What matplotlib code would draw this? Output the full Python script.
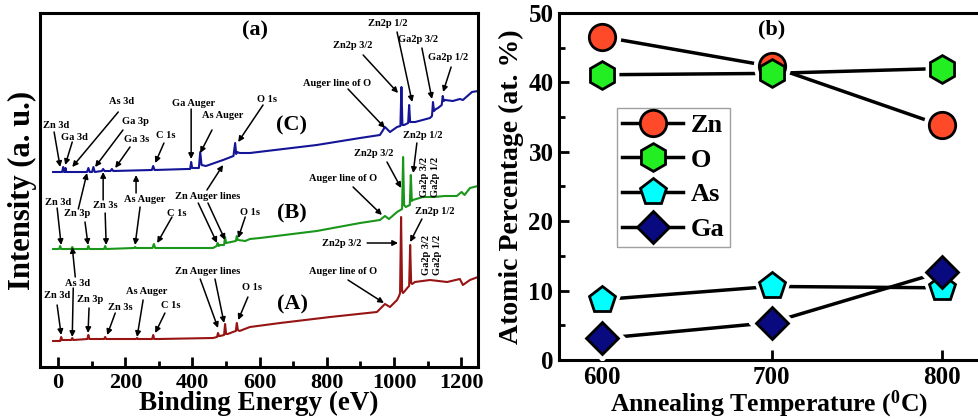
import matplotlib
matplotlib.use("Agg")
import matplotlib.pyplot as plt
from matplotlib.ticker import MultipleLocator

plt.rcParams['font.family'] = ['Liberation Serif', 'DejaVu Serif']
plt.rcParams['font.weight'] = 'bold'
plt.rcParams['axes.labelweight'] = 'bold'
plt.rcParams['mathtext.fontset'] = 'custom'
plt.rcParams['mathtext.rm'] = 'Liberation Serif:bold'
plt.rcParams['mathtext.default'] = 'rm'

# survey spectra: binding energy (eV) and intensity (arb. units)
energy_c = [-15, 12, 15, 18, 20, 22, 24, 86, 90, 94, 101, 105, 109, 130, 134, 138,
            156, 160, 164, 279, 283, 287, 384, 393, 396, 399, 419, 423, 427, 440, 491,
            522, 527, 530, 533, 540, 571, 770, 899, 958, 973, 988, 1009, 1019, 1022,
            1025, 1030, 1042, 1045, 1048, 1052, 1063, 1107, 1113, 1116, 1119, 1125,
            1131, 1142, 1145, 1148, 1152, 1175, 1196, 1205, 1232, 1250]
intensity_c = [195, 195, 200, 195, 195, 199, 195, 195, 199, 195, 195, 200, 195, 196, 198, 196,
               196, 198, 196, 197, 201, 197, 198, 198, 205, 199, 199, 215, 202, 201, 207,
               211, 224, 213, 215, 214, 214, 222, 229, 232, 240, 235, 240, 241, 280,
               242, 242, 244, 262, 245, 245, 245, 249, 251, 265, 256, 258,
               259, 262, 271, 266, 267, 266, 268, 267, 275, 276]

energy_b = [-15, 3, 6, 9, 39, 42, 45, 87, 90, 93, 137, 140, 143, 226, 229, 232, 281, 285,
            289, 300, 461, 472, 475, 478, 482, 494, 497, 500, 529, 532, 535, 557, 571,
            601, 770, 899, 958, 973, 985, 1009, 1024, 1027, 1030, 1035, 1047, 1050, 1053,
            1056, 1086, 1120, 1150, 1187, 1201, 1210, 1226, 1250]
intensity_b = [118, 118, 121, 118, 118, 120, 118, 118, 121, 118, 118, 121, 118, 119, 120, 119, 119, 123,
               119, 119, 119, 121, 124, 121, 122, 122, 130, 124, 126, 131, 127, 126, 128,
               129, 136, 144, 147, 151, 148, 155, 158, 210, 162, 160, 162, 192, 166,
               167, 170, 170, 171, 171, 175, 172, 179, 181]

energy_a = [-15, 6, 9, 12, 39, 42, 45, 87, 90, 93, 137, 140, 143, 232, 235, 238, 280, 283,
            286, 300, 461, 473, 476, 479, 482, 494, 497, 500, 505, 520, 529, 532, 535,
            540, 571, 661, 810, 949, 973, 988, 1009, 1015, 1018, 1021, 1024, 1027, 1042,
            1045, 1048, 1051, 1054, 1062, 1107, 1158, 1196, 1205, 1226, 1250]
intensity_a = [26, 26, 30, 27, 27, 29, 27, 28, 32, 28, 28, 30, 28, 28, 29, 28, 28, 32,
               28, 28, 29, 30, 34, 31, 31, 32, 43, 33, 33, 35, 36, 44, 37,
               36, 40, 44, 50, 55, 63, 60, 67, 71, 74, 150, 76, 74, 80,
               81, 122, 84, 83, 85, 87, 85, 88, 82, 87, 90]

# atomic percentages vs annealing temperature
temperature = [600, 700, 800]
zn_pct = [46.6, 42.3, 33.8]
o_pct = [41.1, 41.3, 42.0]
as_pct = [8.7, 10.6, 10.4]
ga_pct = [3.1, 5.4, 12.7]

# peak labels: (text, energy, intensity)
peak_labels = [
    ("Zn 3d", -6, 242), ("Ga 3d", 48, 230), ("As 3d", 190, 265), ("Ga 3p", 229, 245),
    ("Ga 3s", 235, 228), ("C 1s", 321, 231), ("Ga Auger", 402, 264), ("As Auger", 491, 251),
    ("O 1s", 622, 267), ("Auger line of O", 830, 284), ("Zn2p 3/2", 878, 322),
    ("Zn2p 1/2", 982, 343), ("Ga2p 3/2", 1071, 328), ("Ga2p 1/2", 1161, 310),
    ("Zn 3d", 0, 165), ("Zn 3p", 57, 154), ("Zn 3s", 140, 162), ("As Auger", 259, 168),
    ("C 1s", 354, 154), ("Zn Auger lines", 446, 171), ("O 1s", 571, 155),
    ("Auger line of O", 848, 189), ("Zn2p 3/2", 938, 214), ("Zn2p 1/2", 1086, 232),
    ("As 3d", 57, 84),
    ("Zn 3d", -3, 71), ("Zn 3p", 95, 68), ("Zn 3s", 185, 60), ("As Auger", 265, 75),
    ("C 1s", 336, 62), ("Zn Auger lines", 446, 95), ("O 1s", 577, 79),
    ("Auger line of O", 848, 95), ("Zn2p 3/2", 845, 124), ("Zn2p 1/2", 1122, 156),
]
rotated_labels = [("Ga2p 3/2", 1092, 190), ("Ga2p 1/2", 1122, 190),
                  ("Ga2p 3/2", 1098, 112), ("Ga2p 1/2", 1128, 112)]
# arrows: (start energy, start intensity, end energy, end intensity)
peak_arrows = [
    (-12, 235, 6, 200), (42, 225, 21, 202), (179, 255, 42, 200), (193, 237, 110, 200),
    (214, 220, 170, 199), (315, 224, 289, 204), (396, 258, 396, 208), (458, 237, 423, 214),
    (610, 262, 536, 225), (863, 278, 973, 239), (908, 312, 1012, 274),
    (1009, 335, 1054, 265), (1083, 319, 1113, 268), (1170, 300, 1146, 275),
    (-3, 159, 9, 122), (60, 158, 86, 194), (80, 145, 89, 122), (134, 167, 134, 195),
    (140, 154, 143, 122), (232, 174, 232, 192), (244, 160, 229, 122), (339, 150, 295, 124),
    (443, 177, 491, 202), (417, 164, 473, 124), (446, 164, 497, 127), (557, 150, 536, 129),
    (878, 180, 964, 152), (979, 205, 1021, 179), (1068, 224, 1057, 194),
    (51, 90, 42, 120), (45, 79, 42, 30),
    (-3, 62, 9, 32), (92, 59, 89, 34), (170, 54, 146, 32), (253, 67, 235, 30),
    (318, 54, 289, 34), (423, 88, 476, 39), (467, 88, 494, 44), (565, 70, 536, 47),
    (863, 87, 970, 64), (920, 124, 1012, 124), (1083, 148, 1048, 125),
]

fig = plt.figure(figsize=(9.79, 4.19), dpi=100)

# ---- (a) survey spectra ----
ax1 = fig.add_axes([40 / 979, 52 / 419, 438 / 979, 354 / 419])
ax1.plot(energy_c, intensity_c, color='#141496', lw=1.5)
ax1.plot(energy_b, intensity_b, color='#1a961a', lw=1.5)
ax1.plot(energy_a, intensity_a, color='#961414', lw=1.5)
ax1.set_xlim(-54, 1250)
ax1.set_ylim(0, 354)
ax1.set_yticks([])
ax1.xaxis.set_major_locator(MultipleLocator(200))
ax1.xaxis.set_minor_locator(MultipleLocator(100))
ax1.tick_params(axis='x', which='major', direction='in', length=7, width=2, labelsize=16, pad=4)
ax1.tick_params(axis='x', which='minor', direction='in', length=4, width=2)
for s in ax1.spines.values():
    s.set_linewidth(2.2)
ax1.set_xlabel("Binding Energy (eV)", fontsize=19.5, labelpad=-1)
ax1.set_ylabel("Intensity (a. u.)", fontsize=22, labelpad=2)

for txt, x, y in peak_labels:
    ax1.text(x, y, txt, fontsize=7.5, ha='center', va='center')
for txt, x, y in rotated_labels:
    ax1.text(x, y, txt, fontsize=7.5, ha='center', va='center', rotation=90)
for x0, y0, x1, y1 in peak_arrows:
    ax1.annotate("", xy=(x1, y1), xytext=(x0, y0),
                 arrowprops=dict(arrowstyle='-|>', color='k', lw=1.1,
                                 mutation_scale=8, shrinkA=0, shrinkB=0))
ax1.text(586, 337, "(a)", fontsize=16, ha='center', va='center')
ax1.text(696, 242, "(C)", fontsize=16, ha='center', va='center')
ax1.text(696, 154, "(B)", fontsize=16, ha='center', va='center')
ax1.text(699, 63, "(A)", fontsize=16, ha='center', va='center')

# ---- (b) composition ----
ax2 = fig.add_axes([559 / 979, 59 / 419, 420 / 979, 347 / 419])
series = [
    ("Zn", zn_pct, 'o', '#ff4a2a', 19),
    ("O", o_pct, 'h', '#22ee22', 20),
    ("As", as_pct, 'p', '#00ffff', 20),
    ("Ga", ga_pct, 'D', '#0a0a80', 16),
]
for name, vals, mk, col, ms in series:
    ax2.plot(temperature, vals, '-', color='k', lw=2.5, marker=mk, ms=ms,
             mfc=col, mec='k', mew=2, label=name, zorder=3)
# white halos so the connecting lines stop short of the symbols
for name, vals, mk, col, ms in series:
    ax2.plot(temperature, vals, ls='none', marker=mk, ms=ms + 7, mfc='white',
             mec='white', zorder=4)
for name, vals, mk, col, ms in series:
    ax2.plot(temperature, vals, ls='none', marker=mk, ms=ms, mfc=col, mec='k',
             mew=2, zorder=5)

ax2.set_xlim(575, 822)
ax2.set_ylim(0, 50)
ax2.set_xticks(temperature)
ax2.yaxis.set_major_locator(MultipleLocator(10))
ax2.yaxis.set_minor_locator(MultipleLocator(5))
ax2.tick_params(which='major', direction='in', length=7, width=2, labelsize=18, pad=4)
ax2.tick_params(which='minor', direction='in', length=4, width=2)
for s in ax2.spines.values():
    s.set_linewidth(2.2)
ax2.spines['right'].set_visible(False)
ax2.set_xlabel(r"Annealing Temperature ($^{0}$C)", fontsize=18.5, labelpad=0)
ax2.set_ylabel("Atomic Percentage (at. %)", fontsize=20, labelpad=3)
ax2.text(700, 47.6, "(b)", fontsize=16, ha='center', va='center')
leg = ax2.legend(loc='upper left', bbox_to_anchor=(0.138, 0.726), fontsize=19,
                 frameon=True, fancybox=False, edgecolor='#888888',
                 handlelength=2.3, handletextpad=0.3, borderpad=0.2,
                 labelspacing=0.43, borderaxespad=0)
leg.get_frame().set_linewidth(1)

fig.savefig("out.png", dpi=100)
